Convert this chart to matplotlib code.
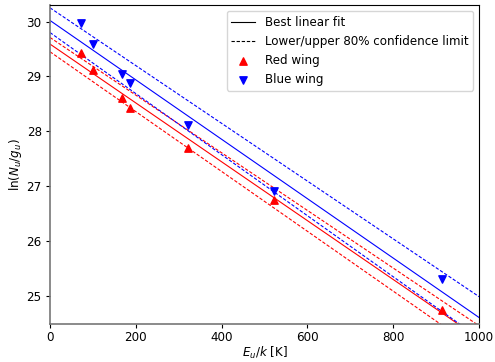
import matplotlib.pyplot as plt
import numpy as np

# upper level energies E_u/k [K]
energy = [72, 101, 168, 186, 321, 521, 913]
red_wing = [29.43, 29.12, 28.60, 28.42, 27.70, 26.75, 24.75]
blue_wing = [29.98, 29.59, 29.05, 28.89, 28.11, 26.91, 25.31]

# fit lines: (intercept, slope) for best, lower, upper
red_fit = [(29.59, -0.00536), (29.45, -0.00545), (29.71, -0.00525)]
blue_fit = [(30.02, -0.00541), (29.80, -0.00556), (30.25, -0.00526)]

plt.rcParams["font.size"] = 8.6
plt.rcParams["xtick.major.size"] = 3.0
plt.rcParams["ytick.major.size"] = 3.0
plt.rcParams["xtick.major.pad"] = 2.5
plt.rcParams["ytick.major.pad"] = 3.0
plt.rcParams["axes.labelpad"] = 1.5

fig = plt.figure(figsize=(4.95, 3.62), dpi=100)
ax = fig.add_axes([0.101, 0.106, 0.867, 0.880])

xx = np.array([0, 1000])
for fits, col in [(red_fit, "red"), (blue_fit, "blue")]:
    b, m = fits[0]
    ax.plot(xx, b + m * xx, color=col, lw=0.8)
    for b, m in fits[1:]:
        ax.plot(xx, b + m * xx, color=col, lw=0.8, ls=(0, (3, 1.6)))

ax.scatter(energy, red_wing, marker="^", color="red", s=28, zorder=3)
ax.scatter(energy, blue_wing, marker="v", color="blue", s=28, zorder=3)

# legend proxies
ax.plot([], [], color="k", lw=0.8, label="Best linear fit")
ax.plot([], [], color="k", lw=0.8, ls=(0, (3, 1.6)), label="Lower/upper 80% confidence limit")
ax.scatter([], [], marker="^", color="red", s=28, label="Red wing")
ax.scatter([], [], marker="v", color="blue", s=28, label="Blue wing")
ax.legend(loc="upper right", fontsize=8.6)

ax.set_xlim(0, 1000)
ax.set_ylim(24.5, 30.3)
ax.set_xlabel(r"$E_u/k$ [K]", labelpad=0.5)
ax.set_ylabel(r"$\ln(N_u/g_u)$")
for s in ["left", "bottom"]:
    ax.spines[s].set_color("#777777")
    ax.spines[s].set_linewidth(1.2)

fig.savefig("out.png", dpi=100)
